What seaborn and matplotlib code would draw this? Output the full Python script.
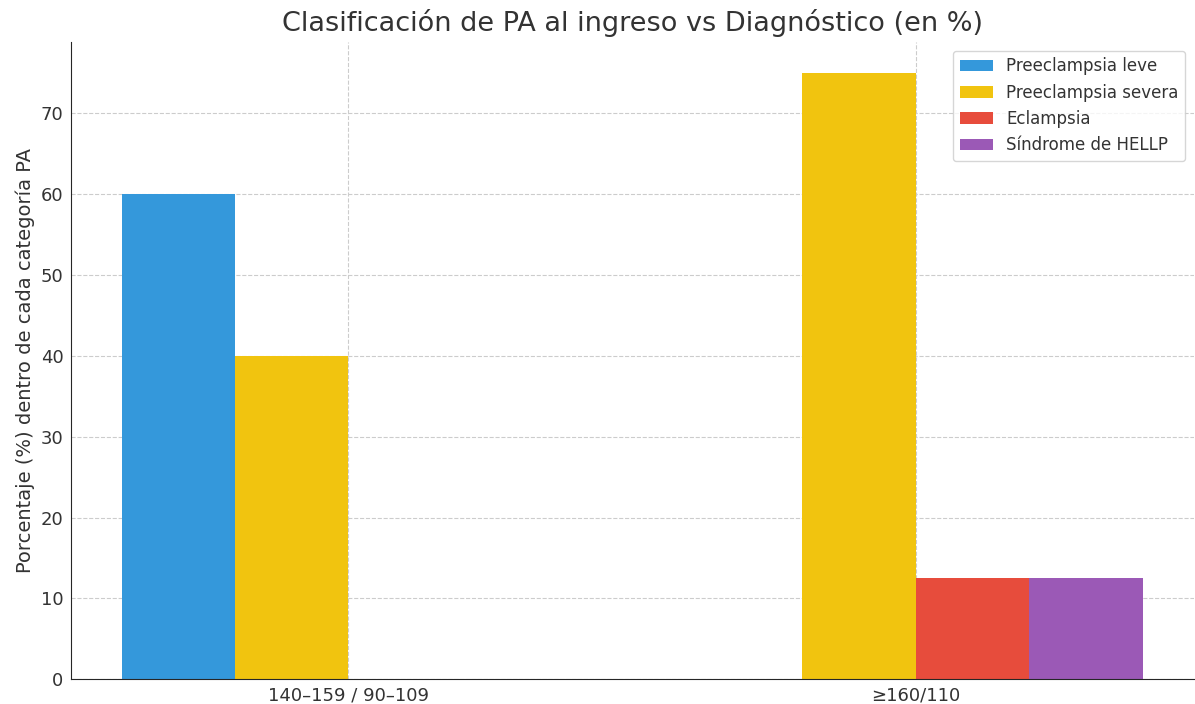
import matplotlib
matplotlib.use("Agg")
import matplotlib.pyplot as plt
import seaborn as sns
import pandas as pd

categories = ["140–159 / 90–109", "≥160/110"]
series_names = ["Preeclampsia leve", "Preeclampsia severa", "Eclampsia", "Síndrome de HELLP"]
leve = [60, 0]
severa = [40, 75]
eclampsia = [0, 12.5]
hellp = [0, 12.5]
colors = ["#3498db", "#f1c40f", "#e74c3c", "#9b59b6"]

rows = []
for name, vals in zip(series_names, [leve, severa, eclampsia, hellp]):
    for cat, v in zip(categories, vals):
        rows.append({"cat": cat, "serie": name, "val": v})
df = pd.DataFrame(rows)

sns.set_style("white")
plt.rcParams['font.family'] = ['DejaVu Sans']
fig, ax = plt.subplots(figsize=(11.95, 7.04), dpi=100)
sns.barplot(data=df, x="cat", y="val", hue="serie", hue_order=series_names,
            order=categories, palette=colors, width=0.8, saturation=1, ax=ax,
            errorbar=None, linewidth=0, edgecolor="none")
ax.grid(True, linestyle="--", color="#cccccc", linewidth=0.8)
ax.set_axisbelow(True)
sns.despine(ax=ax)
ax.set_xlim(-0.49, 1.49)
ax.set_ylim(0, 78.75)
ax.set_title("Clasificación de PA al ingreso vs Diagnóstico (en %)", fontsize=19.5, color="#333333", pad=8)
ax.set_xlabel("")
ax.set_ylabel("Porcentaje (%) dentro de cada categoría PA", fontsize=14, color="#333333")
ax.tick_params(axis="both", labelsize=13, colors="#333333", length=3, pad=2)
leg = ax.legend(loc="upper right", fontsize=12, frameon=True, bbox_to_anchor=(1.0, 1.0))
for t in leg.get_texts():
    t.set_color("#333333")
fig.subplots_adjust(left=0.059, right=0.999, top=0.94, bottom=0.035)
fig.savefig("out.png", dpi=100)
